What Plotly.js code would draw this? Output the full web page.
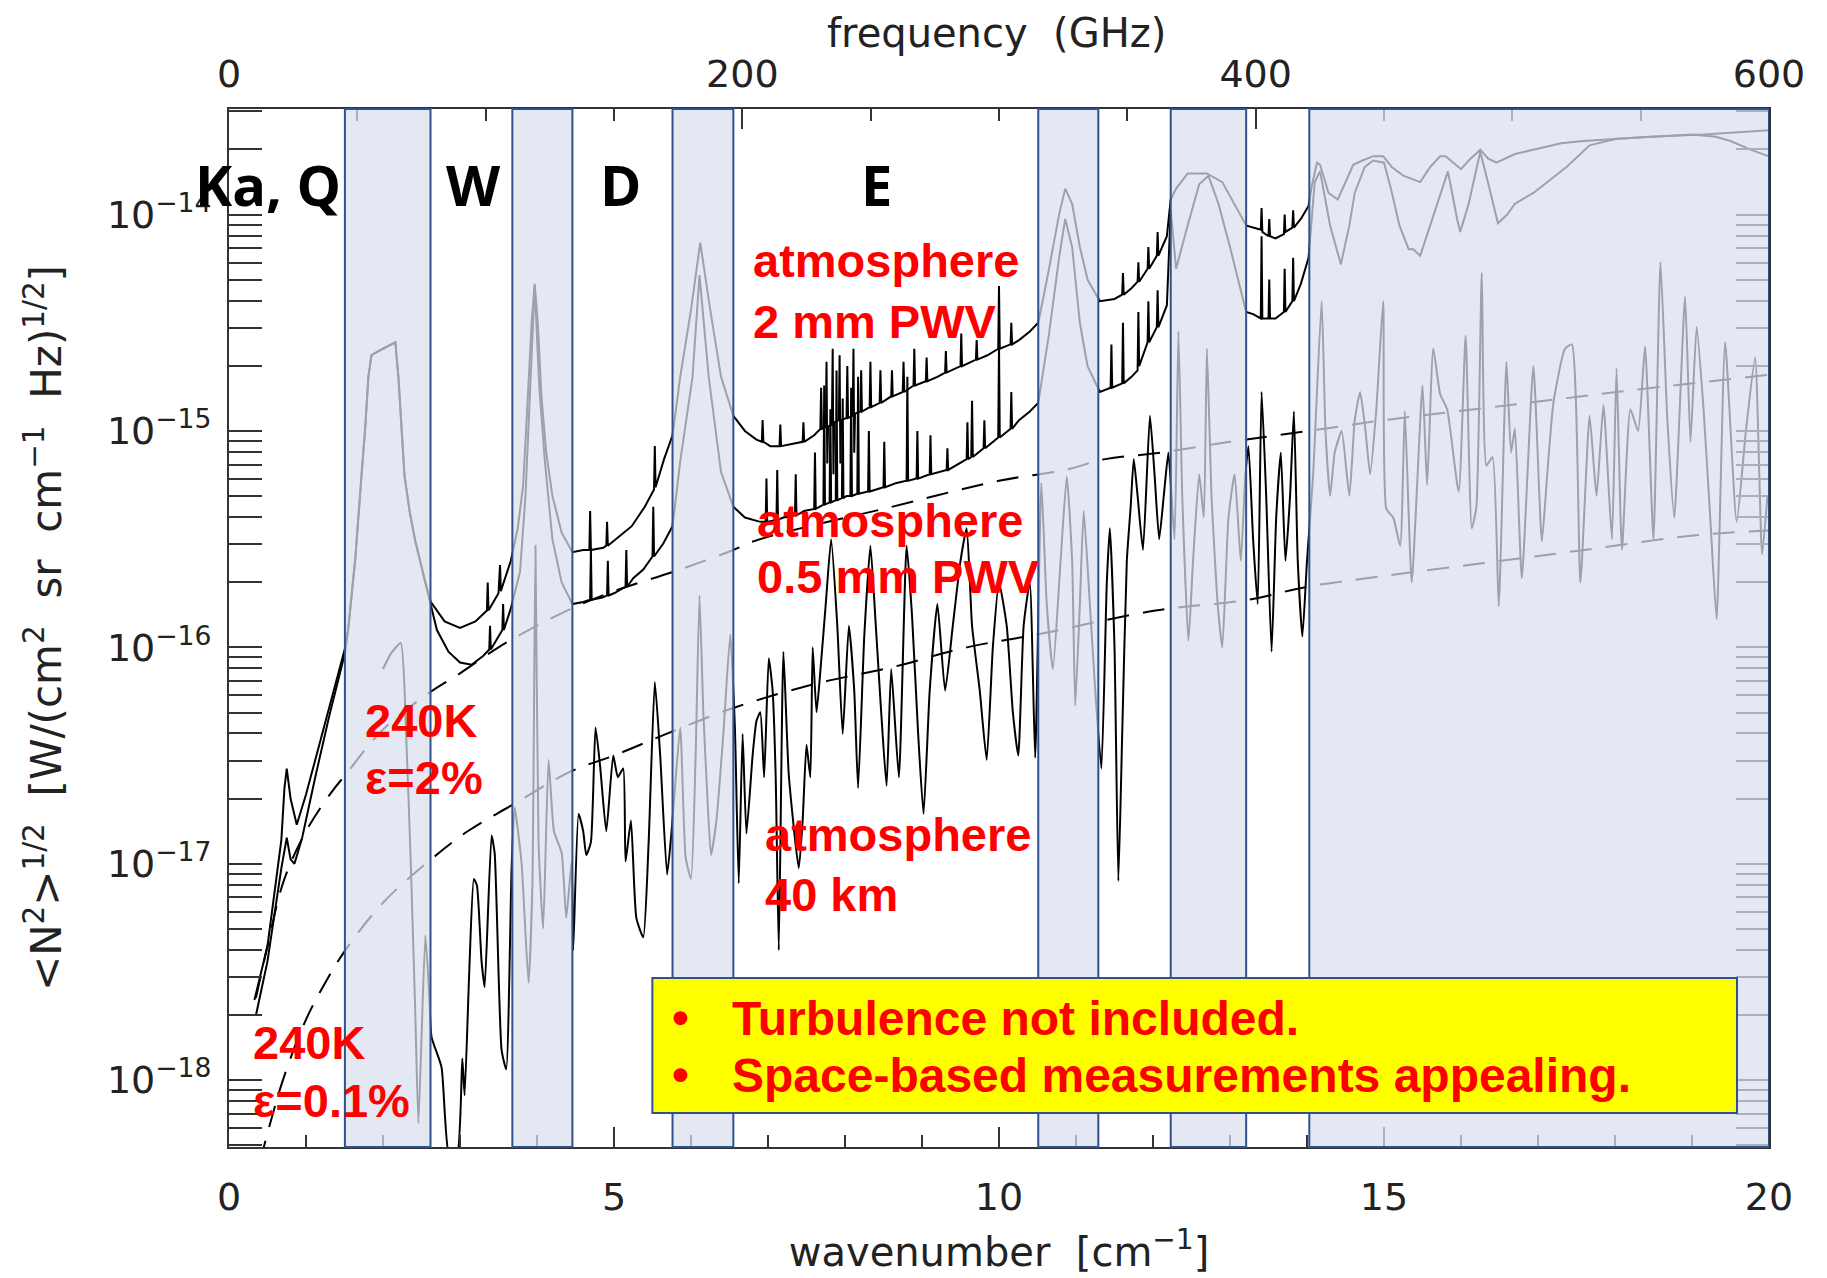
<!DOCTYPE html>
<html>
<head>
<meta charset="utf-8">
<script src="https://cdn.plot.ly/plotly-3.0.1.min.js"></script>
<style>
html,body{margin:0;padding:0;background:#fff;}
#chart{width:1827px;height:1278px;}
</style>
</head>
<body>
<div id="chart"></div>
<script>
// ---------------- DATA ----------------
// y values are stored as log10 of <N^2>^(1/2) [W/(cm^2 sr cm^-1 Hz)^(1/2)]
// x values are wavenumber [cm^-1]

// atmosphere, 2 mm PWV
const pwv2_x = [0.33,0.5,0.68,0.72,0.75,0.8,0.88,1.0,1.12,1.3,1.51,1.55,1.64,1.72,1.77,1.81,1.85,2.0,2.16,2.2,2.24,2.28,2.35,2.42,2.55,2.62,2.8,3.0,3.2,3.35,3.36,3.37,3.5,3.52,3.53,3.66,3.75,3.82,3.88,3.93,3.97,4.01,4.06,4.12,4.2,4.32,4.46,4.6,4.68,4.69,4.70,4.86,4.9,4.91,4.92,5.23,5.4,5.52,5.53,5.54,5.65,5.76,5.86,6.0,6.12,6.25,6.39,6.55,6.7,6.85,6.92,6.93,6.94,7.03,7.15,7.16,7.17,7.3,7.45,7.46,7.47,7.6,7.68,7.69,7.7,7.75,7.76,7.77,7.78,7.83,7.84,7.85,7.86,7.92,7.93,7.94,7.95,8.02,8.03,8.04,8.1,8.11,8.12,8.13,8.2,8.21,8.22,8.32,8.33,8.34,8.45,8.46,8.47,8.6,8.61,8.62,8.75,8.76,8.77,8.89,8.9,8.91,9.05,9.06,9.07,9.2,9.3,9.31,9.32,9.5,9.51,9.52,9.7,9.71,9.72,9.85,9.99,10.0,10.01,10.15,10.16,10.17,10.26,10.4,10.51,10.65,10.78,10.86,10.95,11.05,11.15,11.31,11.5,11.6,11.61,11.62,11.72,11.8,11.81,11.82,11.93,11.94,11.95,12.05,12.06,12.07,12.18,12.23,12.3,12.45,12.7,12.9,13.05,13.21,13.3,13.4,13.41,13.42,13.5,13.51,13.52,13.59,13.7,13.71,13.72,13.81,13.82,13.83,13.92,14.02,14.06,14.13,14.17,14.28,14.40,14.5,14.6,14.72,14.86,14.99,15.1,15.25,15.47,15.6,15.73,15.8,16.0,16.1,16.25,16.35,16.46,16.7,16.94,17.3,17.59,18.0,18.45,19.15,19.6,20];
const pwv2_log10 = [-17.63,-17.38,-16.89,-16.65,-16.56,-16.70,-16.82,-16.68,-16.52,-16.28,-16.00,-15.91,-15.59,-15.21,-14.98,-14.75,-14.65,-14.62,-14.59,-14.75,-14.99,-15.21,-15.38,-15.51,-15.70,-15.79,-15.88,-15.91,-15.88,-15.83,-15.70,-15.83,-15.75,-15.62,-15.74,-15.60,-15.45,-15.25,-14.85,-14.5,-14.32,-14.5,-14.85,-15.1,-15.3,-15.47,-15.56,-15.55,-15.55,-15.37,-15.55,-15.54,-15.53,-15.42,-15.53,-15.44,-15.35,-15.27,-15.07,-15.26,-15.13,-15.02,-14.75,-14.44,-14.13,-14.44,-14.75,-14.93,-15.0,-15.04,-15.05,-14.95,-15.05,-15.07,-15.07,-14.97,-15.07,-15.06,-15.05,-14.96,-15.05,-15.02,-14.99,-14.80,-14.99,-14.98,-14.68,-15.15,-14.98,-14.97,-14.62,-15.2,-14.96,-14.95,-14.65,-15.15,-14.95,-14.94,-14.7,-14.94,-14.93,-14.62,-15.1,-14.92,-14.91,-14.72,-14.91,-14.89,-14.68,-14.89,-14.87,-14.72,-14.87,-14.84,-14.72,-14.84,-14.82,-14.68,-14.82,-14.79,-14.62,-14.79,-14.77,-14.66,-14.77,-14.75,-14.73,-14.63,-14.73,-14.70,-14.55,-14.70,-14.67,-14.58,-14.67,-14.65,-14.62,-14.33,-14.62,-14.6,-14.5,-14.6,-14.58,-14.54,-14.50,-14.25,-14.0,-13.88,-13.95,-14.15,-14.30,-14.40,-14.39,-14.37,-14.27,-14.37,-14.34,-14.31,-14.22,-14.31,-14.25,-14.15,-14.25,-14.19,-14.08,-14.19,-14.10,-13.93,-13.88,-13.81,-13.81,-13.85,-13.95,-14.05,-14.06,-14.07,-13.97,-14.08,-14.10,-14.02,-14.10,-14.11,-14.09,-14.0,-14.08,-14.06,-13.98,-14.06,-14.02,-13.96,-13.87,-13.76,-13.77,-13.90,-13.93,-13.85,-13.77,-13.75,-13.73,-13.73,-13.78,-13.82,-13.85,-13.78,-13.73,-13.73,-13.79,-13.75,-13.70,-13.74,-13.76,-13.72,-13.70,-13.67,-13.66,-13.65,-13.64,-13.63,-13.62,-13.61];

// atmosphere, 0.5 mm PWV
const pwv05_x = [0.35,0.5,0.68,0.75,0.8,0.85,0.95,1.12,1.3,1.51,1.55,1.64,1.72,1.77,1.81,1.85,2.0,2.16,2.2,2.24,2.28,2.35,2.42,2.55,2.62,2.7,2.85,3.0,3.15,3.3,3.38,3.39,3.40,3.45,3.55,3.56,3.57,3.66,3.78,3.85,3.91,3.97,4.03,4.1,4.2,4.32,4.46,4.6,4.69,4.70,4.71,4.85,4.91,4.92,4.93,5.0,5.15,5.16,5.17,5.25,5.38,5.5,5.51,5.52,5.64,5.76,5.86,6.02,6.11,6.23,6.39,6.55,6.7,6.9,6.97,6.98,6.99,7.11,7.12,7.13,7.2,7.35,7.36,7.37,7.47,7.6,7.61,7.62,7.72,7.73,7.74,7.8,7.81,7.82,7.88,7.89,7.9,7.96,7.97,7.98,8.02,8.07,8.08,8.09,8.16,8.17,8.18,8.3,8.31,8.32,8.5,8.51,8.52,8.67,8.8,8.81,8.82,8.93,8.94,8.95,9.1,9.11,9.12,9.32,9.33,9.34,9.58,9.59,9.6,9.64,9.65,9.66,9.8,9.81,9.82,9.99,10.0,10.01,10.15,10.16,10.17,10.26,10.4,10.51,10.65,10.78,10.86,10.95,11.05,11.15,11.31,11.45,11.46,11.47,11.6,11.61,11.62,11.72,11.8,11.81,11.82,11.93,11.94,11.95,12.05,12.06,12.07,12.18,12.23,12.3,12.45,12.6,12.72,12.85,13.0,13.21,13.3,13.4,13.41,13.42,13.5,13.51,13.52,13.59,13.7,13.71,13.72,13.81,13.82,13.83,13.92,14.02,14.1,14.17,14.3,14.44,14.55,14.62,14.75,14.86,15.0,15.09,15.2,15.32,15.38,15.47,15.6,15.73,15.83,15.95,15.99,16.1,16.25,16.35,16.48,16.6,16.7,16.94,17.15,17.37,17.67,18.02,18.5,19.0,19.31,19.5,19.76,19.99];
const pwv05_log10 = [-17.70,-17.45,-17.02,-16.88,-16.98,-17.0,-16.88,-16.6,-16.32,-16.02,-15.91,-15.59,-15.21,-14.98,-14.75,-14.65,-14.62,-14.59,-14.75,-14.99,-15.21,-15.38,-15.51,-15.70,-15.80,-15.92,-16.02,-16.07,-16.08,-16.04,-16.01,-15.9,-16.01,-15.98,-15.92,-15.80,-15.92,-15.82,-15.65,-15.3,-14.8,-14.33,-14.8,-15.13,-15.5,-15.70,-15.80,-15.79,-15.78,-15.55,-15.78,-15.77,-15.76,-15.6,-15.76,-15.75,-15.72,-15.55,-15.72,-15.68,-15.64,-15.58,-15.35,-15.58,-15.52,-15.44,-15.14,-14.75,-14.28,-14.75,-15.19,-15.35,-15.40,-15.42,-15.42,-15.22,-15.42,-15.41,-15.18,-15.41,-15.40,-15.39,-15.2,-15.39,-15.37,-15.36,-15.1,-15.36,-15.34,-14.79,-15.34,-15.33,-14.9,-15.33,-15.32,-14.72,-15.32,-15.31,-14.85,-15.31,-15.30,-15.30,-14.8,-15.30,-15.29,-14.75,-15.29,-15.28,-15.0,-15.28,-15.26,-15.05,-15.26,-15.24,-15.23,-14.75,-15.23,-15.22,-15.0,-15.22,-15.20,-15.02,-15.20,-15.18,-15.08,-15.18,-15.13,-14.96,-15.13,-15.12,-14.86,-15.12,-15.08,-14.95,-15.08,-15.03,-14.6,-15.03,-14.99,-14.82,-14.99,-14.95,-14.91,-14.87,-14.55,-14.2,-14.02,-14.15,-14.5,-14.7,-14.82,-14.80,-14.6,-14.80,-14.78,-14.5,-14.78,-14.75,-14.72,-14.45,-14.70,-14.59,-14.4,-14.59,-14.52,-14.35,-14.52,-14.42,-13.98,-14.25,-14.05,-13.86,-13.82,-13.95,-14.15,-14.45,-14.46,-14.48,-14.1,-14.48,-14.48,-14.3,-14.48,-14.48,-14.45,-14.25,-14.45,-14.40,-14.2,-14.40,-14.32,-14.20,-13.85,-13.80,-14.05,-14.23,-14.05,-13.9,-13.78,-13.75,-13.76,-13.88,-14.05,-14.16,-14.16,-14.19,-14.05,-13.91,-13.80,-14.02,-14.08,-13.95,-13.71,-13.85,-14.04,-14.0,-13.95,-13.90,-13.84,-13.78,-13.68,-13.65,-13.64,-13.63,-13.64,-13.66,-13.70,-13.73];

// atmosphere, 40 km
const km40_x = [2.0,2.1,2.23,2.3,2.36,2.42,2.46,2.55,2.6,2.63,2.76,2.86,2.96,3.03,3.06,3.12,3.18,3.22,3.28,3.32,3.41,3.45,3.54,3.6,3.67,3.71,3.8,3.89,3.94,3.98,4.02,4.08,4.15,4.22,4.32,4.38,4.45,4.47,4.54,4.6,4.64,4.7,4.76,4.82,4.9,4.99,5.05,5.12,5.15,5.22,5.29,5.38,5.45,5.53,5.6,5.69,5.75,5.86,5.93,6.0,6.06,6.11,6.16,6.2,6.26,6.33,6.42,6.51,6.57,6.62,6.67,6.72,6.8,6.85,6.9,6.95,7.01,7.06,7.1,7.14,7.2,7.27,7.4,7.45,7.5,7.55,7.58,7.63,7.68,7.75,7.82,7.9,7.97,8.05,8.12,8.17,8.25,8.33,8.4,8.47,8.54,8.6,8.7,8.8,8.87,8.95,9.02,9.1,9.2,9.3,9.4,9.5,9.58,9.65,9.75,9.84,9.92,10.0,10.1,10.18,10.25,10.32,10.4,10.47,10.55,10.62,10.7,10.8,10.88,10.95,10.99,11.05,11.1,11.18,11.25,11.33,11.4,11.44,11.5,11.55,11.6,11.66,11.71,11.75,11.8,11.87,11.96,12.02,12.08,12.14,12.2,12.28,12.33,12.38,12.46,12.52,12.6,12.66,12.7,12.76,12.84,12.9,12.98,13.06,13.14,13.2,13.24,13.3,13.36,13.41,13.47,13.54,13.6,13.66,13.72,13.78,13.83,13.88,13.94,14.0,14.08,14.19,14.24,14.3,14.36,14.45,14.55,14.62,14.69,14.76,14.82,14.9,14.99,15.03,15.12,15.21,15.27,15.36,15.5,15.56,15.64,15.73,15.82,15.97,16.06,16.14,16.2,16.27,16.33,16.41,16.49,16.59,16.65,16.7,16.79,16.94,17.05,17.12,17.2,17.35,17.44,17.55,17.67,17.76,17.85,17.96,18.02,18.09,18.2,18.3,18.39,18.5,18.59,18.68,18.77,18.91,18.98,19.06,19.15,19.24,19.32,19.43,19.58,19.7,19.82,19.91,19.98];
const km40_log10 = [-16.10,-16.03,-15.98,-16.4,-16.99,-17.7,-18.2,-17.33,-17.6,-17.8,-17.94,-18.35,-18.35,-17.90,-18.07,-17.5,-17.07,-17.1,-17.45,-17.57,-16.87,-16.95,-17.86,-17.95,-17.02,-16.74,-17.0,-17.55,-17.1,-15.53,-16.9,-17.3,-16.52,-16.85,-16.95,-17.25,-16.99,-17.4,-16.77,-16.85,-16.96,-16.9,-16.37,-16.55,-16.85,-16.50,-16.6,-16.56,-16.99,-16.8,-17.25,-17.34,-16.9,-16.16,-16.5,-17.05,-16.84,-16.37,-16.97,-17.07,-16.5,-15.76,-16.3,-16.6,-16.96,-16.8,-16.4,-15.94,-16.37,-17.09,-16.4,-16.86,-16.5,-16.34,-16.3,-16.6,-16.05,-16.2,-16.6,-17.4,-16.02,-16.59,-17.02,-16.8,-16.45,-16.6,-16.0,-16.3,-16.11,-15.8,-15.50,-15.9,-16.4,-15.9,-16.2,-16.65,-15.95,-15.53,-15.9,-16.3,-16.64,-16.1,-16.6,-15.53,-15.85,-16.4,-16.77,-16.2,-15.8,-16.2,-15.9,-15.6,-15.45,-15.9,-16.2,-16.52,-16.0,-15.7,-15.9,-16.3,-16.50,-15.9,-15.7,-16.51,-15.24,-15.8,-16.1,-15.6,-15.21,-15.6,-16.27,-15.8,-15.37,-15.8,-16.2,-16.56,-15.7,-15.45,-16.0,-17.08,-16.4,-15.6,-15.35,-15.13,-15.3,-15.55,-14.93,-15.2,-15.5,-15.3,-15.1,-15.5,-14.54,-15.3,-15.97,-15.6,-15.2,-15.4,-14.62,-15.3,-15.8,-16.0,-15.4,-15.2,-15.6,-15.2,-15.07,-15.5,-15.8,-14.82,-15.3,-16.02,-15.4,-15.1,-15.6,-15.3,-14.91,-15.6,-15.95,-15.6,-15.2,-14.40,-15.0,-15.3,-15.1,-15.0,-15.3,-14.95,-14.82,-15.0,-15.2,-14.9,-14.40,-15.36,-15.4,-15.53,-14.91,-15.70,-14.79,-15.25,-14.62,-14.83,-14.9,-15.28,-14.56,-15.45,-15.35,-14.27,-15.16,-15.12,-15.81,-14.68,-15.1,-14.99,-15.68,-14.70,-15.51,-15.2,-14.87,-14.62,-14.60,-15.70,-14.93,-15.3,-14.88,-15.50,-14.71,-15.55,-14.9,-15.0,-14.61,-15.50,-14.22,-14.95,-15.40,-14.38,-15.05,-14.52,-14.9,-15.42,-15.87,-14.59,-15.42,-15.0,-14.66,-15.57,-15.3];

// 240 K, emissivity 2 %
const eps2_x = [0.35,0.5,0.71,1.0,1.33,1.51,2.0,2.6,3.0,3.5,4.0,4.45,5.0,5.86,6.55,6.81,7.42,8.5,10.0,10.86,11.38,12.11,13.0,14.02,15.0,16.64,18.02,20];
const eps2_log10 = [-17.62,-17.38,-17.08,-16.85,-16.67,-16.59,-16.38,-16.21,-16.12,-16.0,-15.90,-15.82,-15.74,-15.64,-15.55,-15.51,-15.45,-15.36,-15.23,-15.18,-15.13,-15.10,-15.05,-15.0,-14.95,-14.88,-14.82,-14.74];

// 240 K, emissivity 0.1 %
const eps01_x = [0.4,0.7,1.0,1.25,1.51,2.0,2.59,3.1,3.67,4.46,5.0,5.68,6.55,7.6,8.63,9.58,10.5,12.03,13.24,14.0,15.0,16.3,17.6,19.1,20];
const eps01_log10 = [-18.38,-18.0,-17.72,-17.55,-17.40,-17.18,-16.99,-16.85,-16.73,-16.57,-16.50,-16.40,-16.28,-16.17,-16.09,-16.0,-15.94,-15.83,-15.78,-15.72,-15.67,-15.61,-15.55,-15.48,-15.46];

// shaded bands (wavenumber ranges)
const band_start = [1.505, 3.68, 5.76, 10.51, 12.23, 14.03];
const band_end   = [2.617, 4.46, 6.55, 11.29, 13.21, 20];

// axis ticks
const y_tickvals = [1e-18, 1e-17, 1e-16, 1e-15, 1e-14];
const y_ticktext = ['10<sup>−18</sup>','10<sup>−17</sup>','10<sup>−16</sup>','10<sup>−15</sup>','10<sup>−14</sup>'];
const x_tickvals = [0, 5, 10, 15, 20];
const f_tickvals = [0, 200, 400, 600];

// ---------------- LAYOUT HELPERS ----------------
const PL = 228.5, PR = 1769, PT = 109, PB = 1147;
const pxX = p => (p - PL) / (PR - PL);
const pxY = p => (PB - p) / (PB - PT);
const toVal = a => a.map(v => Math.pow(10, v));

const minorY = [];
for (let k = -19; k <= -14; k++) for (let m = 2; m <= 9; m++) minorY.push(m * Math.pow(10, k));

function curve(x, ylog, dash, shape, smoothing) {
  const ln = {color: '#000', width: 2, dash: dash || 'solid'};
  if (shape) { ln.shape = shape; ln.smoothing = smoothing; }
  return {x: x, y: toVal(ylog), type: 'scatter', mode: 'lines', hoverinfo: 'skip',
          line: ln, showlegend: false};
}

const traces = [
  curve(eps2_x, eps2_log10, '22px,14px', 'spline', 1),
  curve(eps01_x, eps01_log10, '22px,14px', 'spline', 1),
  curve(km40_x, km40_log10, 'solid', 'spline', 0.5),
  curve(pwv05_x, pwv05_log10),
  curve(pwv2_x, pwv2_log10),
  {x: [], y: [], xaxis: 'x2', yaxis: 'y', type: 'scatter', mode: 'lines', showlegend: false, hoverinfo: 'skip'}
];

const shapes = band_start.map((s, i) => ({
  type: 'rect', xref: 'x', yref: 'paper', x0: s, x1: band_end[i], y0: 0, y1: 1,
  fillcolor: 'rgba(216,223,239,0.72)', line: {color: '#2F528F', width: 2}, layer: 'above'
}));
shapes.push({type: 'rect', xref: 'paper', yref: 'paper', x0: pxX(652), x1: pxX(1737), y0: pxY(1113), y1: pxY(978),
  fillcolor: '#ffff00', line: {color: '#2F528F', width: 2}, layer: 'above'});

const RED = '#ff0000';
const redFont = 'Liberation Sans, Arial, sans-serif';
function ann(text, xPx, basePx, size, color, anchor, family) {
  return {text: '<b>' + text + '</b>', xref: 'paper', yref: 'paper', showarrow: false,
    x: pxX(xPx), y: pxY(basePx - 0.35 * size), xanchor: anchor || 'left', yanchor: 'middle',
    font: {family: family || redFont, size: size, color: color}};
}

const axFont = 'DejaVu Sans, sans-serif';
const bandFont = 'Open Sans, Liberation Sans, sans-serif';
const annotations = [
  ann('Ka, Q', 268, 204, 56, '#000', 'center', bandFont),
  ann('W', 473, 204, 56, '#000', 'center', bandFont),
  ann('D', 620, 204, 56, '#000', 'center', bandFont),
  ann('E', 876, 204, 56, '#000', 'center', bandFont),
  ann('atmosphere', 751, 277, 47, RED),
  ann('2 mm PWV', 751, 338, 47, RED),
  ann('atmosphere', 755, 537, 47, RED),
  ann('0.5 mm PWV', 755, 593, 47, RED),
  ann('atmosphere', 763, 851, 47, RED),
  ann('40 km', 763, 911, 47, RED),
  ann('240K', 363, 737, 47, RED),
  ann('ε=2%', 363, 794, 47, RED),
  ann('240K', 251, 1059, 47, RED),
  ann('ε=0.1%', 251, 1117, 47, RED),
  ann('•', 680, 1034, 48, RED, 'center'),
  ann('•', 680, 1091, 48, RED, 'center'),
  ann('Turbulence not included.', 730, 1035, 48, RED),
  ann('Space-based measurements appealing.', 730, 1092, 48, RED),
  // top-axis title (frequency), placed like the reference
  {text: 'frequency  (GHz)', xref: 'paper', yref: 'paper', showarrow: false,
   x: pxX(996), y: pxY(33), xanchor: 'center', yanchor: 'middle',
   font: {family: axFont, size: 40, color: '#222'}}
];

const axColor = '#333';
const layout = {
  width: 1827, height: 1278,
  margin: {l: PL, r: 1827 - PR, t: PT, b: 1278 - PB, pad: 0},
  paper_bgcolor: '#fff', plot_bgcolor: '#fff',
  showlegend: false,
  font: {family: axFont, color: '#222'},
  xaxis: {
    range: [0, 20], tickmode: 'array', tickvals: x_tickvals,
    ticks: 'inside', ticklen: 20, tickwidth: 2, tickcolor: axColor,
    minor: {dtick: 1, tick0: 0, ticks: 'inside', ticklen: 12, tickwidth: 2, tickcolor: axColor, showgrid: false},
    showline: true, linecolor: axColor, linewidth: 2, mirror: false,
    showgrid: false, zeroline: false,
    tickfont: {family: axFont, size: 38, color: '#222'}, ticklabelstandoff: 15,
    title: {text: 'wavenumber  [cm<sup>−1</sup>]', font: {family: axFont, size: 40, color: '#222'}, standoff: 20}
  },
  xaxis2: {
    overlaying: 'x', anchor: 'y', side: 'top', range: [0, 600], tickmode: 'array', tickvals: f_tickvals,
    ticks: 'inside', ticklen: 20, tickwidth: 2, tickcolor: axColor,
    minor: {dtick: 50, tick0: 0, ticks: 'inside', ticklen: 12, tickwidth: 2, tickcolor: axColor, showgrid: false},
    showline: true, linecolor: axColor, linewidth: 2,
    showgrid: false, zeroline: false,
    tickfont: {family: axFont, size: 38, color: '#222'}, ticklabelstandoff: 5
  },
  yaxis: {
    type: 'log', range: [-18.309, -13.512], tickmode: 'array', tickvals: y_tickvals, ticktext: y_ticktext,
    ticks: 'inside', ticklen: 33, tickwidth: 2, tickcolor: axColor,
    minor: {tickmode: 'array', tickvals: minorY, ticks: 'inside', ticklen: 17, tickwidth: 2, tickcolor: axColor, showgrid: false},
    showline: true, linecolor: axColor, linewidth: 2, mirror: 'allticks',
    showgrid: false, zeroline: false,
    tickfont: {family: axFont, size: 38, color: '#222'}, ticklabelstandoff: 8,
    title: {text: '&lt;N<sup>2</sup>&gt;<sup>1/2</sup>  [W/(cm<sup>2</sup>  sr  cm<sup>−1</sup>  Hz)<sup>1/2</sup>]', font: {family: axFont, size: 42, color: '#222'}, standoff: 32}
  },
  shapes: shapes,
  annotations: annotations
};

Plotly.newPlot('chart', traces, layout, {staticPlot: true, displayModeBar: false});
</script>
</body>
</html>
